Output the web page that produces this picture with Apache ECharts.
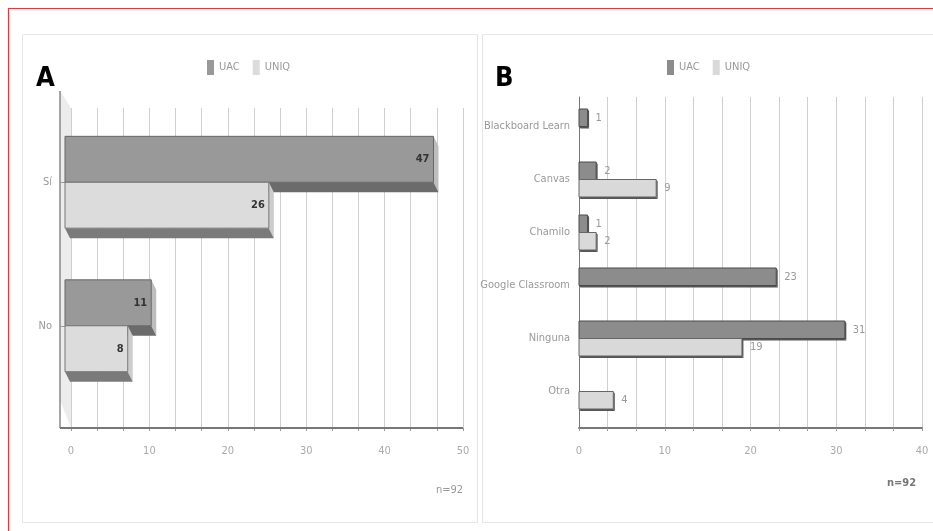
<!DOCTYPE html>
<html><head><meta charset="utf-8">
<script src="https://cdn.jsdelivr.net/npm/echarts@6/dist/echarts.min.js"></script>
<style>html,body{margin:0;padding:0;background:#fff}#c{width:933px;height:531px}</style>
</head><body><div id="c"></div>
<script>
const categoriesA = ['Sí', 'No'];
const uacA = [47, 11];
const uniqA = [26, 8];
const ticksA = [0, 10, 20, 30, 40, 50];

const categoriesB = ['Blackboard Learn', 'Canvas', 'Chamilo', 'Google Classroom', 'Ninguna', 'Otra'];
const uacB = [1, 2, 1, 23, 31, 0];
const uniqB = [0, 9, 2, 0, 19, 4];
const ticksB = [0, 10, 20, 30, 40];

const seriesNames = ['UAC', 'UNIQ'];
const panelTitles = ['A', 'B'];
const sampleNote = 'n=92';

const FONT = "'Liberation Sans Narrow','DejaVu Sans Condensed','Liberation Sans',sans-serif";

function bar3D(cfg) {
  return function (params, api) {
    const v = api.value(0);
    if (!v) return null;
    const ci = api.value(1);
    const p0 = api.coord([0, ci]);
    const p1 = api.coord([v, ci]);
    const band = api.size([0, 1])[1];
    const t = band * cfg.frac;
    const y0 = cfg.upper ? p0[1] - t : p0[1];
    const y1 = y0 + t;
    const x0 = p0[0], x1 = p1[0];
    const dx = cfg.dx, dy = cfg.dy;
    const children = [
      {type: 'polygon', shape: {points: [[x1, y0], [x1 + dx, y0 + dy], [x1 + dx, y1 + dy], [x1, y1]]}, style: {fill: cfg.side}},
      {type: 'polygon', shape: {points: [[x0, y1], [x1, y1], [x1 + dx, y1 + dy], [x0 + dx, y1 + dy]]}, style: {fill: cfg.bottom}},
      {type: 'rect', shape: {x: x0, y: y0, width: x1 - x0, height: t}, style: {fill: cfg.fill, stroke: cfg.stroke, lineWidth: 1}}
    ];
    if (cfg.inside) {
      children.push({type: 'text', style: {text: String(v), x: x1 - 4, y: (y0 + y1) / 2, align: 'right', verticalAlign: 'middle', fill: '#333', font: 'bold 11px ' + FONT}});
    } else {
      children.push({type: 'text', style: {text: String(v), x: x1 + 8, y: (y0 + y1) / 2, align: 'left', verticalAlign: 'middle', fill: '#999', font: '11px ' + FONT}});
    }
    return {type: 'group', children: children};
  };
}

function labelFmt(list) {
  return function (v) {
    for (const t of list) { if (Math.abs(v - t) < 1e-6) return String(t); }
    return '';
  };
}

const colA = {uac: {fill: '#999999', stroke: '#666', side: '#bdbdbd', bottom: '#6b6b6b'},
              uniq: {fill: '#dcdcdc', stroke: '#777', side: '#cdcdcd', bottom: '#7a7a7a'}};
const colB = {uac: {fill: '#8c8c8c', stroke: '#4a4a4a', side: '#555', bottom: '#555'},
              uniq: {fill: '#d9d9d9', stroke: '#666', side: '#555', bottom: '#555'}};

const chart = echarts.init(document.getElementById('c'), null, {renderer: 'canvas'});

const gridLine = {show: true, lineStyle: {color: '#cfcfcf', width: 1}};
const tickLabel = {color: '#aaa', fontSize: 11, fontFamily: FONT, margin: 18};

chart.setOption({
  animation: false,
  backgroundColor: '#fff',
  title: [
    {text: panelTitles[0], left: 36, top: 65, padding: 0, textStyle: {fontFamily: FONT, fontSize: 27, fontWeight: 'bold', color: '#000'}},
    {text: panelTitles[1], left: 495, top: 65, padding: 0, textStyle: {fontFamily: FONT, fontSize: 27, fontWeight: 'bold', color: '#000'}},
    {text: sampleNote, left: 436, top: 485, padding: 0, textStyle: {fontFamily: FONT, fontSize: 11, fontWeight: 'normal', color: '#999'}},
    {text: sampleNote, left: 887, top: 478, padding: 0, textStyle: {fontFamily: FONT, fontSize: 11, fontWeight: 'bold', color: '#777'}}
  ],
  legend: [
    {left: 207, top: 60, padding: 0, itemWidth: 7, itemHeight: 15, itemGap: 13, icon: 'rect',
     textStyle: {color: '#999', fontSize: 11, fontFamily: FONT},
     data: [{name: seriesNames[0], itemStyle: {color: colA.uac.fill}}, {name: seriesNames[1], itemStyle: {color: colA.uniq.fill}}]},
    {left: 667, top: 60, padding: 0, itemWidth: 7, itemHeight: 15, itemGap: 13, icon: 'rect',
     textStyle: {color: '#999', fontSize: 11, fontFamily: FONT},
     data: [{name: seriesNames[0], itemStyle: {color: colB.uac.fill}}, {name: seriesNames[1], itemStyle: {color: colB.uniq.fill}}]}
  ],
  grid: [
    {left: 65, top: 110.5, width: 392, height: 287},
    {left: 71, top: 108, width: 392, height: 320},
    {left: 579, top: 100, width: 343, height: 318},
    {left: 579, top: 97, width: 343, height: 331}
  ],
  xAxis: [
    {gridIndex: 0, type: 'value', min: 0, max: 50, show: false},
    {gridIndex: 1, type: 'value', min: 0, max: 50, interval: 10 / 3,
     axisLine: {show: false}, axisTick: {show: true, length: 3, lineStyle: {color: '#999'}},
     splitLine: gridLine, axisLabel: Object.assign({formatter: labelFmt(ticksA)}, tickLabel)},
    {gridIndex: 2, type: 'value', min: 0, max: 40, show: false},
    {gridIndex: 3, type: 'value', min: 0, max: 40, interval: 10 / 3,
     axisLine: {show: true, onZero: false, lineStyle: {color: '#777', width: 2}},
     axisTick: {show: true, length: 3, lineStyle: {color: '#999'}},
     splitLine: gridLine, axisLabel: Object.assign({formatter: labelFmt(ticksB)}, tickLabel)}
  ],
  yAxis: [
    {gridIndex: 0, type: 'category', data: categoriesA, inverse: true, offset: 5,
     axisLine: {show: false}, axisTick: {show: true, alignWithLabel: true, length: 4, lineStyle: {color: '#999'}},
     axisLabel: {color: '#999', fontSize: 11, fontFamily: FONT, margin: 8}},
    {gridIndex: 1, type: 'value', min: 0, max: 1, show: false},
    {gridIndex: 2, type: 'category', data: categoriesB, inverse: true,
     axisLine: {show: false}, axisTick: {show: false},
     axisLabel: {color: '#999', fontSize: 11, fontFamily: FONT, margin: 9}},
    {gridIndex: 3, type: 'value', min: 0, max: 1,
     axisLine: {show: true, onZero: false, lineStyle: {color: '#777', width: 1}},
     axisTick: {show: false}, axisLabel: {show: false}, splitLine: {show: false}}
  ],
  graphic: [
    {type: 'line', z: 0, shape: {x1: 8, y1: 8.5, x2: 933, y2: 8.5}, style: {stroke: '#e0393e', lineWidth: 1.2}},
    {type: 'line', z: 0, shape: {x1: 8.5, y1: 8, x2: 8.5, y2: 531}, style: {stroke: '#e0393e', lineWidth: 1.2}},
    {type: 'rect', z: 0, shape: {x: 22.5, y: 34.5, width: 455, height: 488}, style: {fill: 'none', stroke: '#e6e6e6', lineWidth: 1}},
    {type: 'rect', z: 0, shape: {x: 482.5, y: 34.5, width: 460, height: 488}, style: {fill: 'none', stroke: '#e6e6e6', lineWidth: 1}},
    {type: 'polygon', z: 0, shape: {points: [[60, 91], [71, 108], [71, 428], [60, 400]]}, style: {fill: '#ececec'}},
    {type: 'line', z: 5, shape: {x1: 60, y1: 91, x2: 60, y2: 428}, style: {stroke: '#888', lineWidth: 1.5}},
    {type: 'line', z: 5, shape: {x1: 60, y1: 428, x2: 463, y2: 428}, style: {stroke: '#777', lineWidth: 2}}
  ],
  series: [
    {type: 'custom', name: seriesNames[0], xAxisIndex: 0, yAxisIndex: 0, itemStyle: {color: colA.uac.fill},
     encode: {x: 0, y: 1}, data: uacA.map((v, i) => [v, i]),
     renderItem: bar3D(Object.assign({frac: 0.32, upper: true, dx: 5, dy: 10, inside: true}, colA.uac))},
    {type: 'custom', name: seriesNames[1], xAxisIndex: 0, yAxisIndex: 0, itemStyle: {color: colA.uniq.fill},
     encode: {x: 0, y: 1}, data: uniqA.map((v, i) => [v, i]),
     renderItem: bar3D(Object.assign({frac: 0.32, upper: false, dx: 5, dy: 10, inside: true}, colA.uniq))},
    {type: 'custom', name: seriesNames[0], xAxisIndex: 2, yAxisIndex: 2, itemStyle: {color: colB.uac.fill},
     encode: {x: 0, y: 1}, data: uacB.map((v, i) => [v, i]),
     renderItem: bar3D(Object.assign({frac: 0.33, upper: true, dx: 1.5, dy: 2, inside: false}, colB.uac))},
    {type: 'custom', name: seriesNames[1], xAxisIndex: 2, yAxisIndex: 2, itemStyle: {color: colB.uniq.fill},
     encode: {x: 0, y: 1}, data: uniqB.map((v, i) => [v, i]),
     renderItem: bar3D(Object.assign({frac: 0.33, upper: false, dx: 1.5, dy: 2, inside: false}, colB.uniq))}
  ]
});
</script>
</body></html>
